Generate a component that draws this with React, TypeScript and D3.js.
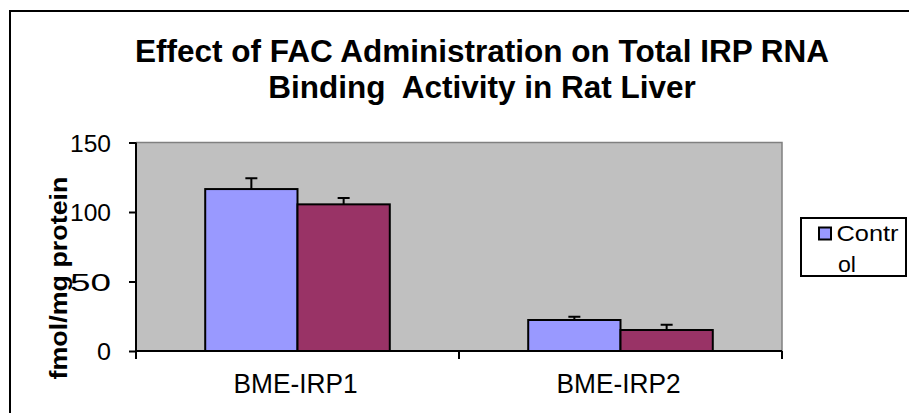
import { useRef, useEffect } from "react"
import * as d3 from "d3"

const categories = ["BME-IRP1", "BME-IRP2"]
const seriesNames = ["Control", "FAC"]
const controlValues = [116.5, 22.3]
const facValues = [105.5, 15.1]
const controlErrors = [7.7, 2.4]
const facErrors = [4.6, 3.8]
const yTicks = [0, 50, 100, 150]
const titleLines = ["Effect of FAC Administration on Total IRP RNA", "Binding  Activity in Rat Liver"]
const yLabel = "fmol/mg protein"
const legendLines = ["Contr", "ol"]

const colors = ["#9999FF", "#993366"]

const App = () => {
  const svgRef = useRef<SVGSVGElement>(null)

  useEffect(() => {
    const root = d3.select(svgRef.current)
    root.selectAll("*").remove()

    const W = 909
    const H = 413
    const plot = { left: 136, right: 782, top: 142.5, bottom: 351 }

    root.attr("width", W).attr("height", H)
    const font = "Arial, 'Liberation Sans', sans-serif"

    // outer chart border (runs off the right and bottom edges)
    root
      .append("rect")
      .attr("x", 10)
      .attr("y", 11)
      .attr("width", 980)
      .attr("height", 440)
      .attr("fill", "#fff")
      .attr("stroke", "#000")
      .attr("stroke-width", 2)

    // title
    const title = root
      .append("text")
      .attr("text-anchor", "middle")
      .style("font-family", font)
      .style("font-weight", "bold")
      .style("font-size", "31.5px")
    titleLines.forEach((line, i) => {
      title
        .append("tspan")
        .attr("x", 482)
        .attr("y", 61.5 + i * 36.7)
        .style("white-space", "pre")
        .text(line)
    })

    const rows = categories.map((c, i) => ({
      category: c,
      values: [
        { series: seriesNames[0], value: controlValues[i], err: controlErrors[i] },
        { series: seriesNames[1], value: facValues[i], err: facErrors[i] },
      ],
    }))

    const x0 = d3.scaleBand().domain(categories).range([plot.left, plot.right]).padding(0)
    const x1 = d3
      .scaleBand()
      .domain(seriesNames)
      .range([0, x0.bandwidth()])
      .paddingInner(0)
      .paddingOuter(0.75)
    const y = d3.scaleLinear().domain([0, 150]).range([plot.bottom, plot.top])

    // plot background
    root
      .append("rect")
      .attr("x", plot.left)
      .attr("y", plot.top)
      .attr("width", plot.right - plot.left)
      .attr("height", plot.bottom - plot.top)
      .attr("fill", "#C0C0C0")
    root
      .append("path")
      .attr("d", `M${plot.left},${plot.top}H${plot.right}V${plot.bottom}`)
      .attr("fill", "none")
      .attr("stroke", "#808080")
      .attr("stroke-width", 1.5)

    // bars
    const groups = root
      .selectAll("g.cat")
      .data(rows)
      .enter()
      .append("g")
      .attr("class", "cat")
      .attr("transform", (d) => `translate(${x0(d.category)},0)`)

    groups
      .selectAll("rect")
      .data((d) => d.values)
      .enter()
      .append("rect")
      .attr("x", (d) => x1(d.series)!)
      .attr("y", (d) => y(d.value))
      .attr("width", x1.bandwidth())
      .attr("height", (d) => y(0) - y(d.value))
      .attr("fill", (_, i) => colors[i])
      .attr("stroke", "#000")
      .attr("stroke-width", 2)

    // error bars (upper only)
    const errs = groups
      .selectAll("g.err")
      .data((d) => d.values)
      .enter()
      .append("g")
      .attr("class", "err")
    errs
      .append("path")
      .attr("d", (d) => {
        const cx = x1(d.series)! + x1.bandwidth() / 2
        return `M${cx},${y(d.value)}V${y(d.value + d.err)}M${cx - 6},${y(d.value + d.err)}H${cx + 6}`
      })
      .attr("stroke", "#000")
      .attr("stroke-width", 2)
      .attr("fill", "none")

    // y axis
    const yAxis = root
      .append("g")
      .attr("transform", `translate(${plot.left},0)`)
      .call(d3.axisLeft(y).tickValues(yTicks).tickSize(7).tickPadding(0).tickFormat(d3.format("d")))
    yAxis.select(".domain").attr("stroke", "#000").attr("stroke-width", 2).attr("d", `M0,${plot.top}V${plot.bottom}`)
    yAxis.selectAll(".tick line").attr("stroke", "#000").attr("stroke-width", 2)
    yAxis
      .selectAll(".tick text")
      .attr("x", -25)
      .attr("dy", "0.36em")
      .style("font-family", font)
      .style("font-size", "24.5px")
      .attr("fill", "#000")
      .attr("textLength", (d: any) => (String(d).length === 1 ? 14 : 41))
      .attr("lengthAdjust", "spacingAndGlyphs")

    // x axis
    root
      .append("path")
      .attr("d", `M${plot.left},${plot.bottom}H${plot.right}`)
      .attr("stroke", "#000")
      .attr("stroke-width", 2)
    const boundaries = [plot.left, ...categories.map((c) => x0(c)! + x0.bandwidth())]
    root
      .selectAll("line.xtick")
      .data(boundaries)
      .enter()
      .append("line")
      .attr("class", "xtick")
      .attr("x1", (d) => d)
      .attr("x2", (d) => d)
      .attr("y1", plot.bottom)
      .attr("y2", plot.bottom + 8)
      .attr("stroke", "#000")
      .attr("stroke-width", 2)
    root
      .selectAll("text.xlab")
      .data(categories)
      .enter()
      .append("text")
      .attr("class", "xlab")
      .attr("x", (d) => x0(d)! + x0.bandwidth() / 2 - 2)
      .attr("y", 392.5)
      .attr("text-anchor", "middle")
      .style("font-family", font)
      .style("font-size", "27px")
      .attr("textLength", 124)
      .attr("lengthAdjust", "spacingAndGlyphs")
      .text((d) => d)

    // y axis title
    root
      .append("text")
      .attr("transform", `translate(67,278) rotate(-90)`)
      .attr("text-anchor", "middle")
      .style("font-family", font)
      .style("font-weight", "bold")
      .style("font-size", "24px")
      .attr("textLength", 203)
      .attr("lengthAdjust", "spacingAndGlyphs")
      .text(yLabel)

    // legend (only the first entry is visible, wrapped)
    const legend = root.append("g")
    legend
      .append("rect")
      .attr("x", 801)
      .attr("y", 218)
      .attr("width", 105)
      .attr("height", 58)
      .attr("fill", "#fff")
      .attr("stroke", "#000")
      .attr("stroke-width", 2)
    legend
      .append("rect")
      .attr("x", 819)
      .attr("y", 227.5)
      .attr("width", 12)
      .attr("height", 12)
      .attr("fill", colors[0])
      .attr("stroke", "#000")
      .attr("stroke-width", 2)
    legend
      .selectAll("text")
      .data(legendLines)
      .enter()
      .append("text")
      .attr("x", (_, i) => (i === 0 ? 836.5 : 838))
      .attr("y", (_, i) => 241 + i * 31)
      .style("font-family", font)
      .style("font-size", "22px")
      .attr("textLength", (_, i) => (i === 0 ? 62 : 18))
      .attr("lengthAdjust", "spacingAndGlyphs")
      .text((d) => d)
  }, [])

  return (
    <div style={{ position: "absolute", left: 0, top: 0 }}>
      <svg ref={svgRef} style={{ display: "block" }}></svg>
    </div>
  )
}

export default App
